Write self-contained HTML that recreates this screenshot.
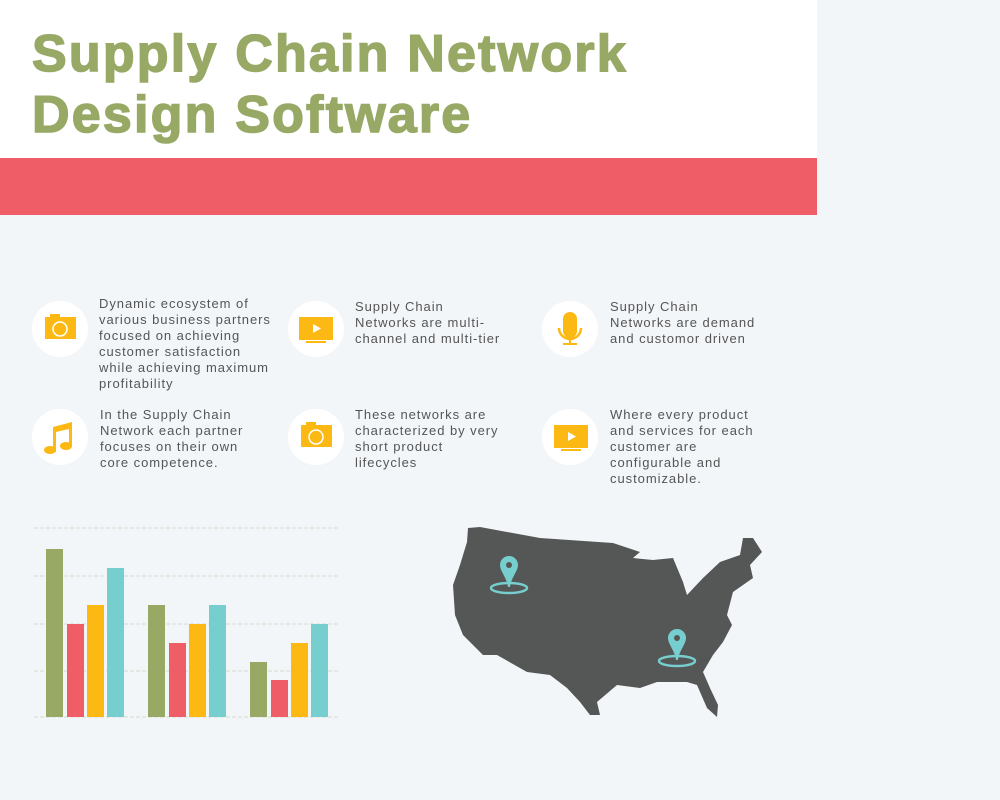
<!DOCTYPE html>
<html><head><style>
body{margin:0;width:1000px;height:800px;background:#f3f6f9;position:relative;overflow:hidden;font-family:"Liberation Sans",sans-serif}
.hdr{position:absolute;left:0;top:0;width:817px;height:158px;background:#fff}
.red{position:absolute;left:0;top:158px;width:817px;height:57px;background:#ef5d67}
.t{position:absolute;left:32px;font-weight:bold;font-size:52px;color:#97a964;letter-spacing:2.2px;white-space:nowrap;-webkit-text-stroke:1.5px #97a964}
.c{position:absolute;width:56px;height:56px;border-radius:50%;background:#fff}
.p{position:absolute;font-size:13px;line-height:16px;color:#555;letter-spacing:0.95px;white-space:nowrap}
</style></head><body>
<div class="hdr"></div><div class="red"></div>
<div class="t" style="top:24px">Supply Chain Network</div>
<div class="t" style="top:85px">Design Software</div>

<div class="c" style="left:32px;top:301px"></div>
<div class="c" style="left:288px;top:301px"></div>
<div class="c" style="left:542px;top:301px"></div>
<div class="c" style="left:32px;top:409px"></div>
<div class="c" style="left:288px;top:409px"></div>
<div class="c" style="left:542px;top:409px"></div>

<svg width="1000" height="800" style="position:absolute;left:0;top:0">
<g fill="#fdb913">
<rect x="45" y="317" width="31" height="22"/><rect x="50" y="314" width="10" height="4"/>
<circle cx="60" cy="329" r="7" fill="none" stroke="#fff" stroke-width="1.5"/>
<rect x="301" y="425" width="31" height="22"/><rect x="306" y="422" width="10" height="4"/>
<circle cx="316" cy="437" r="7" fill="none" stroke="#fff" stroke-width="1.5"/>
<rect x="299" y="317" width="34" height="23"/><rect x="306" y="341" width="20" height="2"/>
<polygon points="313,324 313,333 321,328.5" fill="#fff"/>
<rect x="554" y="425" width="34" height="23"/><rect x="561" y="449" width="20" height="2"/>
<polygon points="568,432 568,441 576,436.5" fill="#fff"/>
<rect x="563" y="312" width="14" height="26" rx="7"/>
<path d="M559,328 a11,11 0 0 0 22,0" fill="none" stroke="#fdb913" stroke-width="2.5"/>
<rect x="569" y="339" width="2" height="5"/><rect x="563" y="343" width="14" height="2"/>
<polygon points="53,427 72,422 72,447 69,447 69,429 56,432 56,452 53,452"/>
<ellipse cx="50" cy="450" rx="6" ry="4"/><ellipse cx="66" cy="446" rx="6" ry="4"/>
</g>
<g stroke="#dcdfd6" stroke-width="1.2" stroke-dasharray="4,2">
<line x1="34" y1="528" x2="340" y2="528"/><line x1="34" y1="576" x2="340" y2="576"/>
<line x1="34" y1="624" x2="340" y2="624"/><line x1="34" y1="671" x2="340" y2="671"/>
<line x1="34" y1="717" x2="340" y2="717"/>
</g>
<rect x="46" y="549" width="17" height="168" fill="#97a964"/>
<rect x="67" y="624" width="17" height="93" fill="#ef5d67"/>
<rect x="87" y="605" width="17" height="112" fill="#fdb913"/>
<rect x="107" y="568" width="17" height="149" fill="#76cece"/>
<rect x="148" y="605" width="17" height="112" fill="#97a964"/>
<rect x="169" y="643" width="17" height="74" fill="#ef5d67"/>
<rect x="189" y="624" width="17" height="93" fill="#fdb913"/>
<rect x="209" y="605" width="17" height="112" fill="#76cece"/>
<rect x="250" y="662" width="17" height="55" fill="#97a964"/>
<rect x="271" y="680" width="17" height="37" fill="#ef5d67"/>
<rect x="291" y="643" width="17" height="74" fill="#fdb913"/>
<rect x="311" y="624" width="17" height="93" fill="#76cece"/>
<polygon fill="#555756" points="468,528 480,527 540,538 613,543 640,552 633,558 653,560 673,558 683,582 687,595 703,578 720,562 740,555 743,538 753,538 762,552 750,565 753,578 733,592 727,615 732,625 723,642 713,655 703,672 710,688 718,705 717,717 707,708 697,685 687,682 657,682 640,688 617,685 597,702 600,715 590,715 580,702 567,688 550,675 527,672 497,655 483,655 473,645 463,635 455,615 453,585 460,565 467,542"/>
<g fill="#76cece">
<path d="M509,556 a9,9 0 0 1 9,9 c0,6 -7,13 -8,22 h-2 c-1,-9 -8,-16 -8,-22 a9,9 0 0 1 9,-9z"/>
<path d="M677,629 a9,9 0 0 1 9,9 c0,6 -7,13 -8,22 h-2 c-1,-9 -8,-16 -8,-22 a9,9 0 0 1 9,-9z"/>
</g>
<circle cx="509" cy="565" r="3" fill="#555756"/><circle cx="677" cy="638" r="3" fill="#555756"/>
<g fill="none" stroke="#76cece" stroke-width="2.5">
<ellipse cx="509" cy="588" rx="18" ry="5"/><ellipse cx="677" cy="661" rx="18" ry="5"/>
</g>
</svg>

<div class="p" style="left:99px;top:296px">Dynamic ecosystem of<br>various business partners<br>focused on achieving<br>customer satisfaction<br>while achieving maximum<br>profitability</div>
<div class="p" style="left:355px;top:299px">Supply Chain<br>Networks are multi-<br>channel and multi-tier</div>
<div class="p" style="left:610px;top:299px">Supply Chain<br>Networks are demand<br>and customor driven</div>
<div class="p" style="left:100px;top:407px">In the Supply Chain<br>Network each partner<br>focuses on their own<br>core competence.</div>
<div class="p" style="left:355px;top:407px">These networks are<br>characterized by very<br>short product<br>lifecycles</div>
<div class="p" style="left:610px;top:407px">Where every product<br>and services for each<br>customer are<br>configurable and<br>customizable.</div>
</body></html>
